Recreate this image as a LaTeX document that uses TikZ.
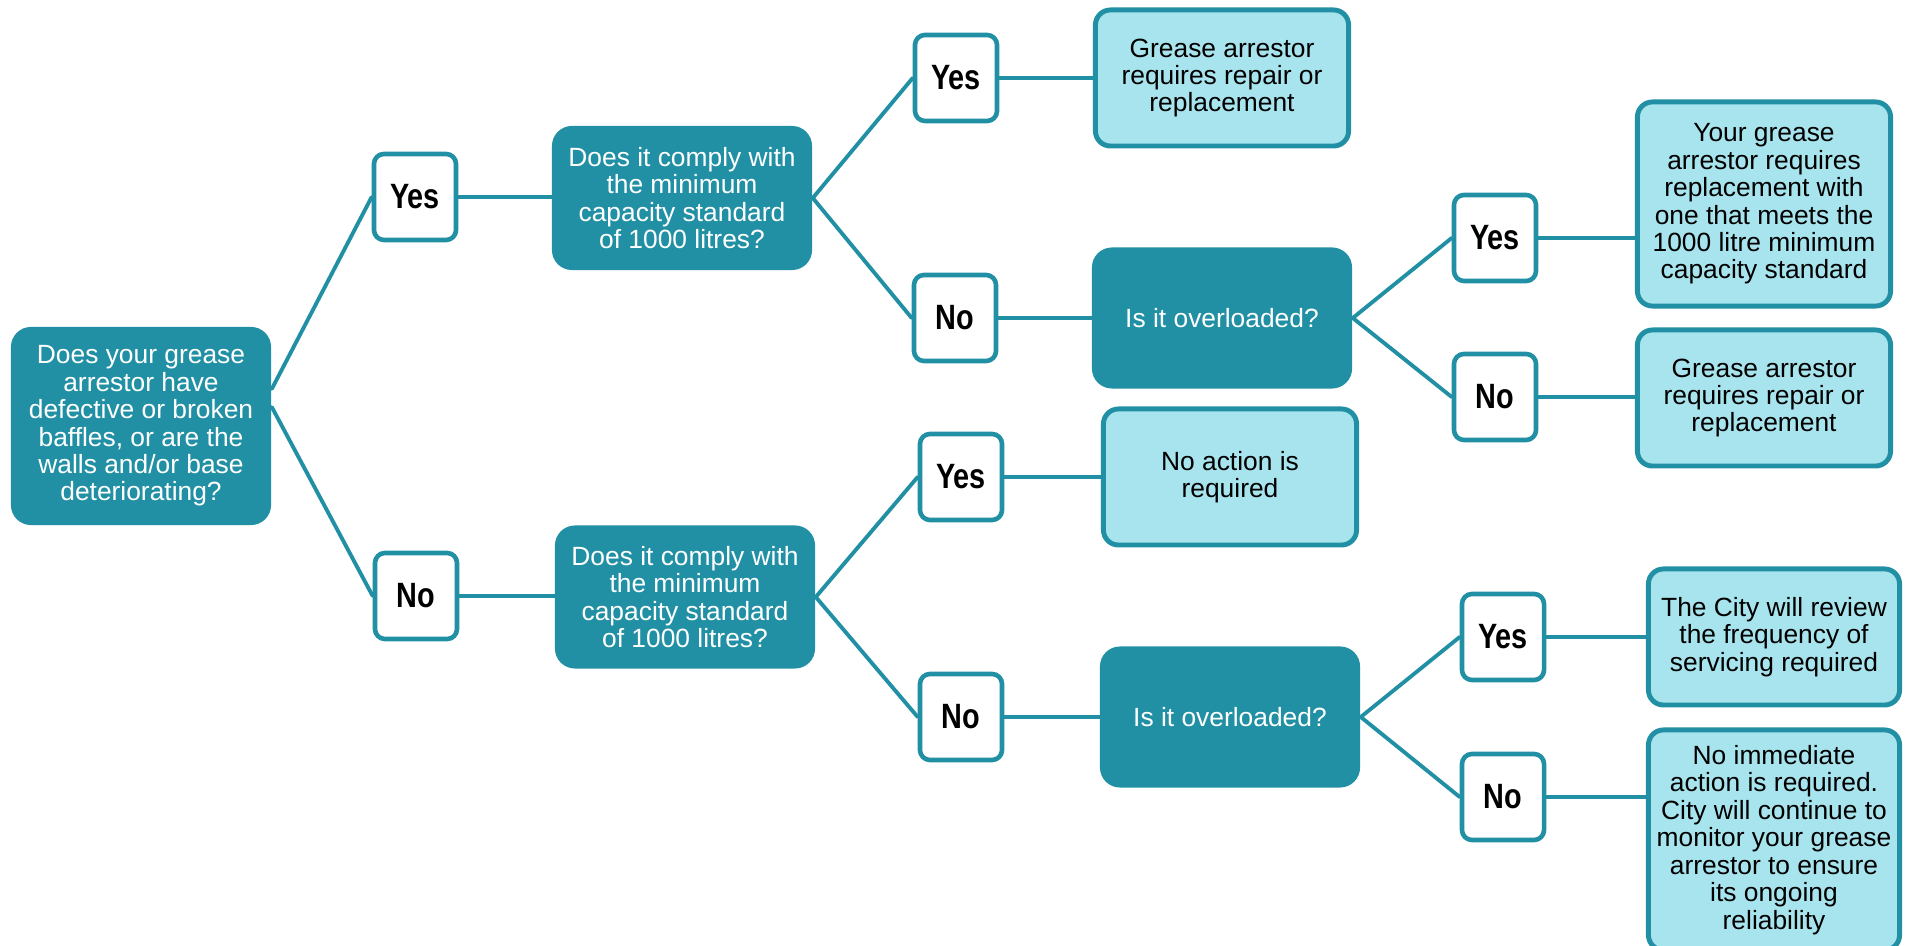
\documentclass[tikz,border=0pt]{standalone}
\usepackage{fontspec}
\setmainfont{Liberation Sans}
\newfontfamily\narrowbold[FakeStretch=0.82]{Liberation Sans Bold}
\usetikzlibrary{arrows}
\usetikzlibrary{positioning}
\definecolor{boxteal}{HTML}{2290A4}
\definecolor{boxlight}{HTML}{A7E4ED}
\tikzset{
  question/.style={fill=boxteal,text=white,rounded corners=2mm,align=center,inner sep=0pt,
    minimum width=2.6cm,font=\fontsize{7.5}{7.8}\selectfont},
  answer/.style={draw=boxteal,fill=white,line width=1.3pt,rounded corners=1mm,inner sep=0pt,
    minimum width=8.2mm,minimum height=8.6mm,font=\narrowbold\fontsize{10}{10}\selectfont},
  outcome/.style={draw=boxteal,fill=boxlight,line width=1.4pt,rounded corners=1.5mm,align=center,
    inner sep=0pt,minimum width=2.53cm,minimum height=1.36cm,font=\fontsize{7.5}{7.8}\selectfont},
  link/.style={draw=boxteal,line width=1.1pt}
}
\begin{document}
\begin{tikzpicture}[line cap=round,line join=round,x=0.01cm,y=-0.01cm]
\clip(0,0) rectangle (1905,946);
% first question
\node[question,minimum height=1.98cm] (root) at (141,426) {Does your grease\\arrestor have\\defective or broken\\baffles, or are the\\walls and/or base\\deteriorating?};
\node[answer] (yesA) at (415,197) {Yes};
\node[answer] (noA) at (416,596) {No};
% capacity questions
\node[question,minimum height=1.44cm] (qA) at (682,198) {Does it comply with\\the minimum\\capacity standard\\of 1000 litres?};
\node[question,minimum height=1.43cm] (qB) at (685,597) {Does it comply with\\the minimum\\capacity standard\\of 1000 litres?};
\node[answer] (yesB) at (956,78) {Yes};
\node[answer] (noB) at (955,318) {No};
\node[answer] (yesC) at (961,477) {Yes};
\node[answer] (noC) at (961,717) {No};
% third column
\node[outcome] (repairA) at (1222,78) {Grease arrestor\\requires repair or\\replacement};
\node[question,minimum height=1.41cm] (overA) at (1222,318) {Is it overloaded?};
\node[outcome] (noaction) at (1230,477) {No action is\\required};
\node[question,minimum height=1.41cm] (overB) at (1230,717) {Is it overloaded?};
\node[answer] (yesD) at (1495,238) {Yes};
\node[answer] (noD) at (1495,397) {No};
\node[answer] (yesE) at (1503,637) {Yes};
\node[answer] (noE) at (1503,797) {No};
% outcomes on the right
\node[outcome,minimum height=2.04cm] (replace) at (1764,204) {Your grease\\arrestor requires\\replacement with\\one that meets the\\1000 litre minimum\\capacity standard};
\node[outcome] (repairB) at (1764,398) {Grease arrestor\\requires repair or\\replacement};
\node[outcome,minimum width=2.51cm] (review) at (1774,637) {The City will review\\the frequency of\\servicing required};
\node[outcome,minimum width=2.51cm,minimum height=2.2cm] (monitor) at (1774,840) {No immediate\\action is required.\\City will continue to\\monitor your grease\\arrestor to ensure\\its ongoing\\reliability};
% connectors
\draw[link] ([yshift=3.7mm]root.east) -- (yesA.west);
\draw[link] ([yshift=1.9mm]root.east) -- (noA.west);
\draw[link] (yesA.east) -- (yesA.east -| qA.west);
\draw[link] (noA.east) -- (noA.east -| qB.west);
\draw[link] (qA.east) -- (yesB.west);
\draw[link] (qA.east) -- (noB.west);
\draw[link] (qB.east) -- (yesC.west);
\draw[link] (qB.east) -- (noC.west);
\draw[link] (yesB.east) -- (yesB.east -| repairA.west);
\draw[link] (noB.east) -- (noB.east -| overA.west);
\draw[link] (yesC.east) -- (yesC.east -| noaction.west);
\draw[link] (noC.east) -- (noC.east -| overB.west);
\draw[link] (overA.east) -- (yesD.west);
\draw[link] (overA.east) -- (noD.west);
\draw[link] (overB.east) -- (yesE.west);
\draw[link] (overB.east) -- (noE.west);
\draw[link] (yesD.east) -- (yesD.east -| replace.west);
\draw[link] (noD.east) -- (noD.east -| repairB.west);
\draw[link] (yesE.east) -- (yesE.east -| review.west);
\draw[link] (noE.east) -- (noE.east -| monitor.west);
\end{tikzpicture}
\end{document}
